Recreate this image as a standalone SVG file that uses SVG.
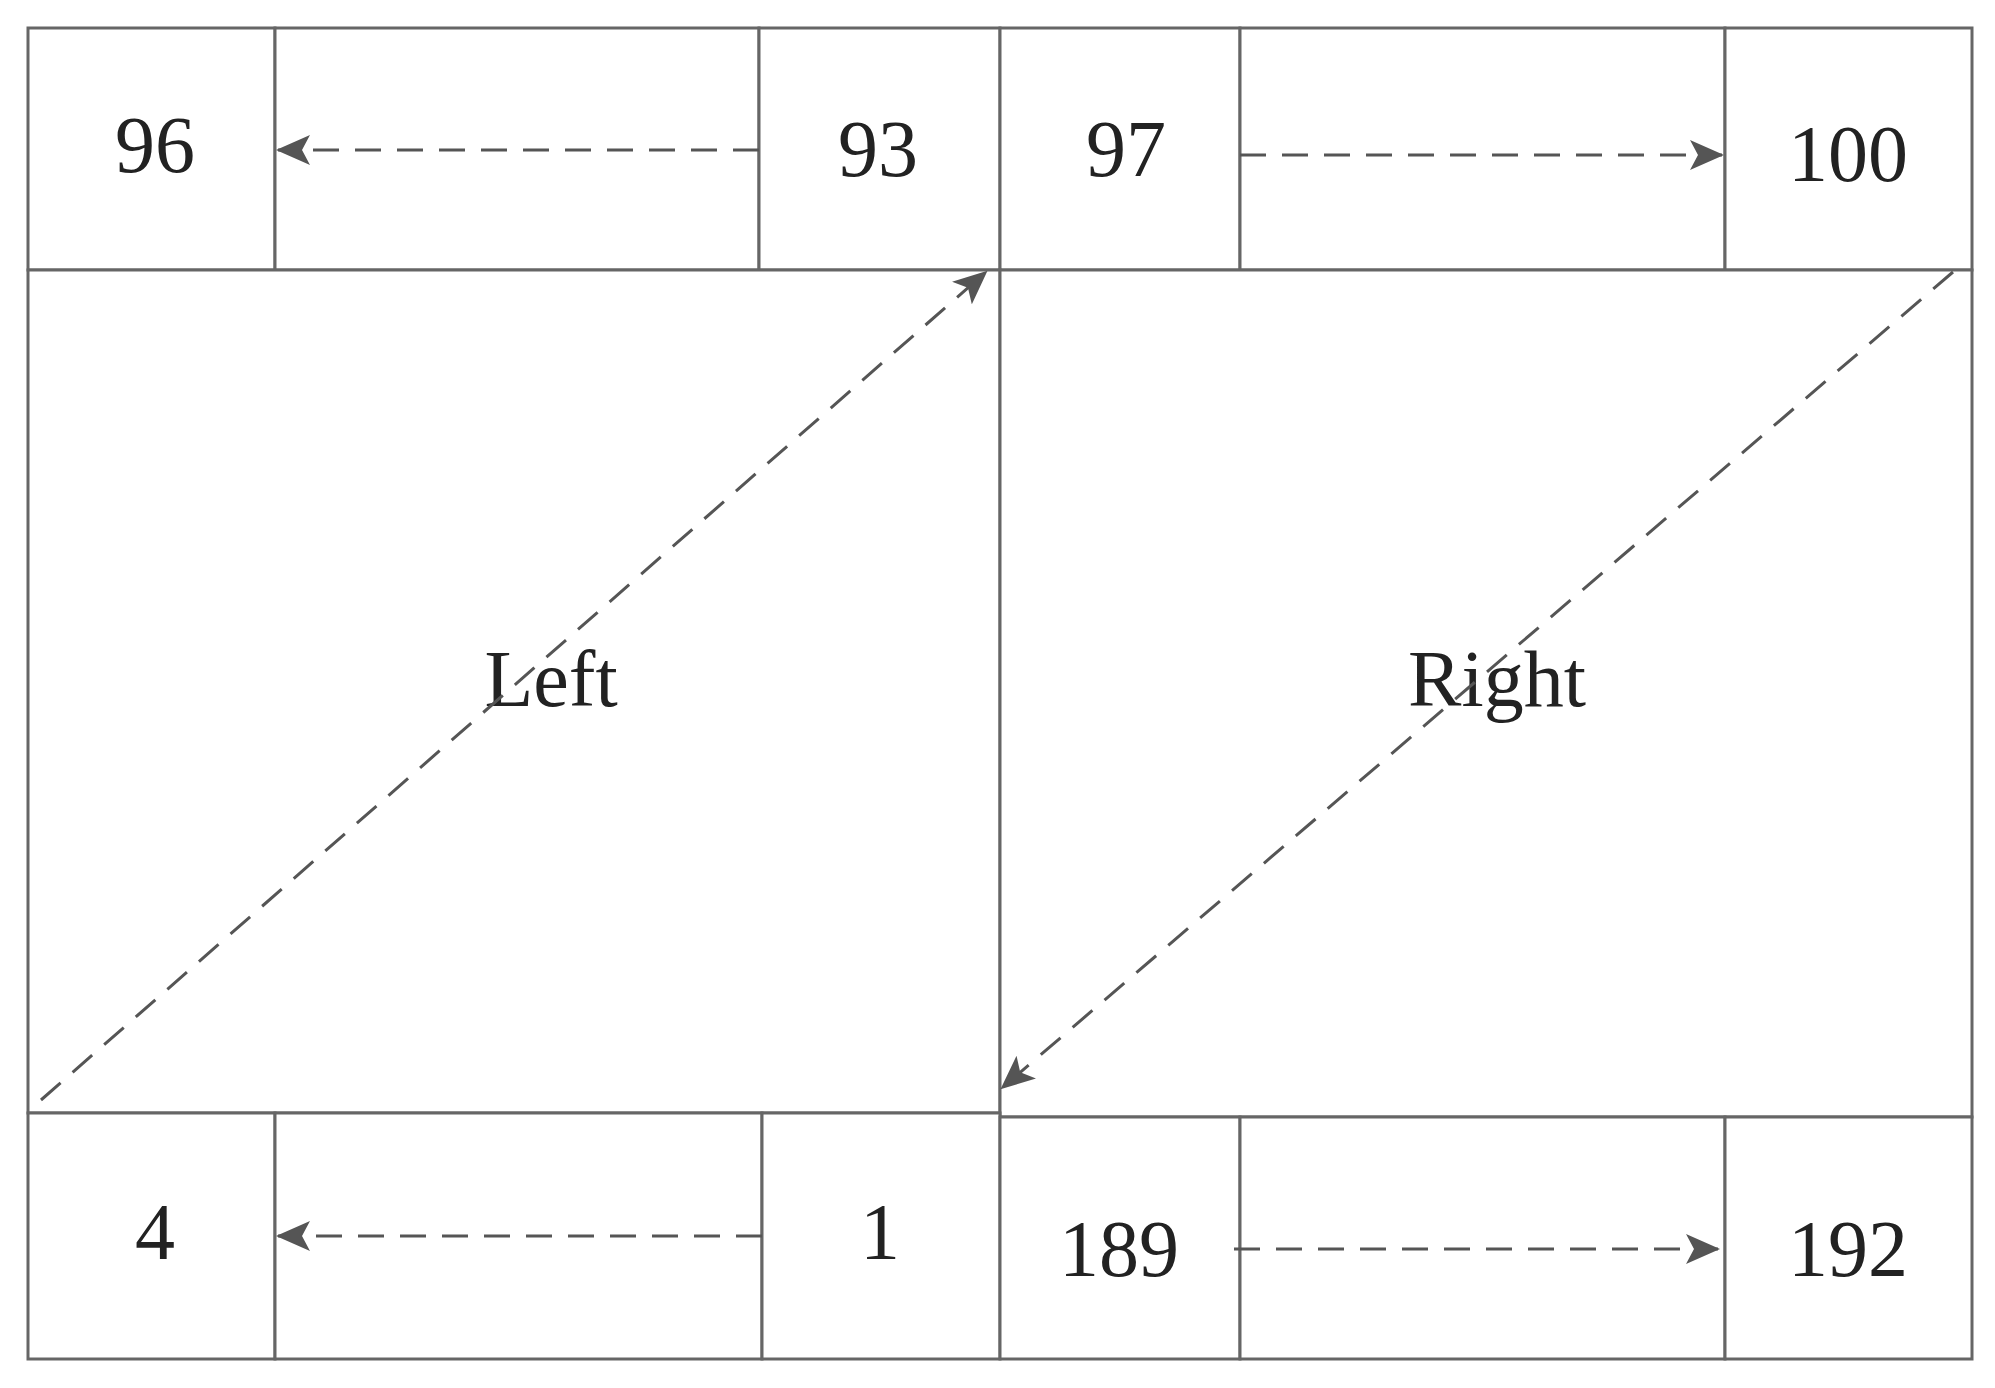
<svg xmlns="http://www.w3.org/2000/svg" width="1995" height="1388" viewBox="0 0 1995 1388">
<defs>
<marker id="ah" markerWidth="34" markerHeight="30" refX="32" refY="15" orient="auto" markerUnits="userSpaceOnUse" viewBox="0 0 34 30"><path d="M0,0 L34,15 L0,30 L8,15 Z" fill="#555"/></marker>
</defs>
<style>
.c{fill:#fff;stroke:#666;stroke-width:3}
.t{font-family:"Liberation Serif",serif;font-size:80px;fill:#222;text-anchor:middle}
.a{stroke:#555;stroke-width:3;stroke-dasharray:26 16;fill:none;marker-end:url(#ah)}
</style>
<rect width="1995" height="1388" fill="#fff"/>
<g id="cells">
<g id="n96"><rect class="c" x="28" y="28" width="247" height="242"/><text class="t" x="155" y="172">96</text></g>
<g id="gapTL"><rect class="c" x="275" y="28" width="484" height="242"/></g>
<g id="n93"><rect class="c" x="759" y="28" width="241" height="242"/><text class="t" x="878" y="176">93</text></g>
<g id="n97"><rect class="c" x="1000" y="28" width="240" height="242"/><text class="t" x="1126" y="176">97</text></g>
<g id="gapTR"><rect class="c" x="1240" y="28" width="485" height="242"/></g>
<g id="n100"><rect class="c" x="1725" y="28" width="247" height="242"/><text class="t" x="1848" y="181">100</text></g>
<g id="left"><rect class="c" x="28" y="270" width="972" height="843"/><text class="t" x="551" y="706">Left</text></g>
<g id="right"><rect class="c" x="1000" y="270" width="972" height="847"/><text class="t" x="1497" y="706">Right</text></g>
<g id="n4"><rect class="c" x="28" y="1113" width="247" height="246"/><text class="t" x="155" y="1259">4</text></g>
<g id="gapBL"><rect class="c" x="275" y="1113" width="487" height="246"/></g>
<g id="n1"><rect class="c" x="762" y="1113" width="238" height="246"/><text class="t" x="880" y="1259">1</text></g>
<g id="n189"><rect class="c" x="1000" y="1117" width="240" height="242"/><text class="t" x="1119" y="1276">189</text></g>
<g id="gapBR"><rect class="c" x="1240" y="1117" width="485" height="242"/></g>
<g id="n192"><rect class="c" x="1725" y="1117" width="247" height="242"/><text class="t" x="1848" y="1276">192</text></g>
</g>
<g id="connectors">
<line class="a" x1="759" y1="150" x2="278" y2="150"/>
<line class="a" x1="1240" y1="155" x2="1722" y2="155"/>
<line class="a" x1="762" y1="1236" x2="278" y2="1236"/>
<line class="a" x1="1234" y1="1249" x2="1718" y2="1249"/>
<line class="a" x1="41" y1="1100" x2="986" y2="272"/>
<line class="a" x1="1953" y1="272" x2="1002" y2="1088"/>
</g>
</svg>
